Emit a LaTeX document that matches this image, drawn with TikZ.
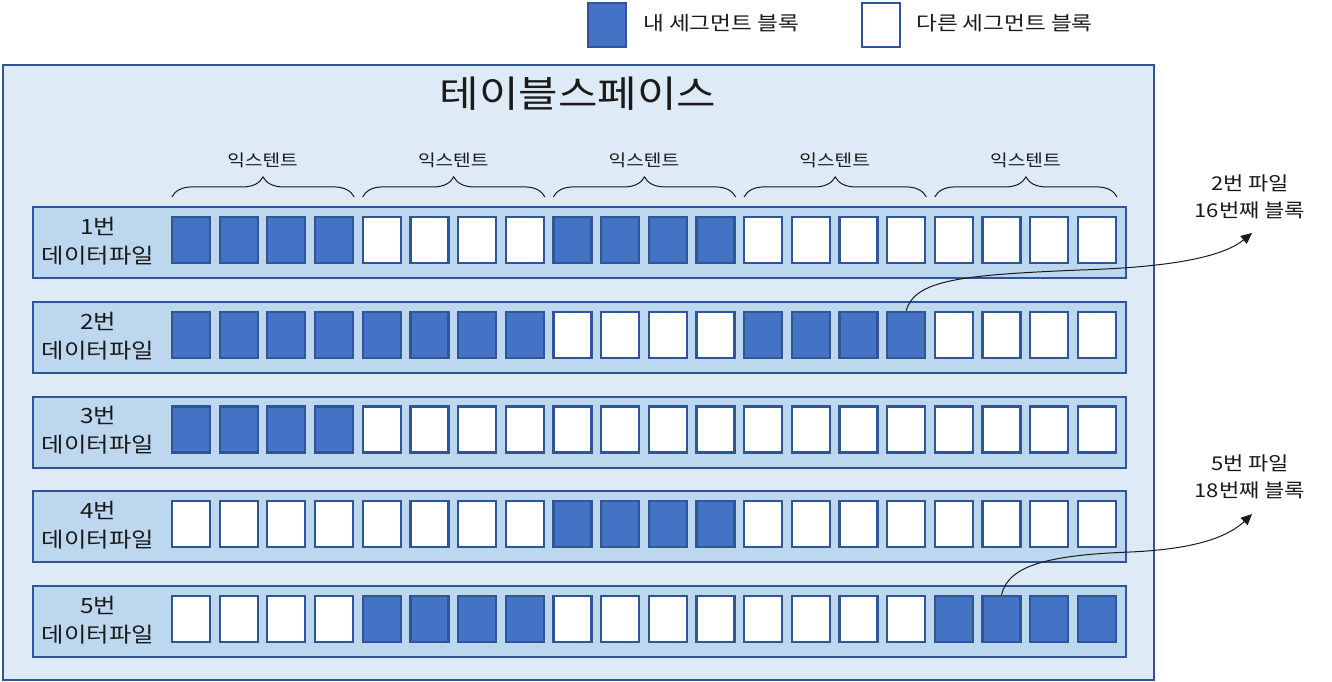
\documentclass[tikz,border=0pt]{standalone}
\usepackage{fontspec}
\setmainfont[FakeStretch=1.16]{Noto Sans CJK KR}
\usetikzlibrary{decorations.pathreplacing,arrows.meta,calc}
\definecolor{tsfill}{HTML}{DEEBF7}
\definecolor{rowfill}{HTML}{BDD7EE}
\definecolor{myblue}{HTML}{4472C4}
\definecolor{edge}{HTML}{2F5597}
\definecolor{ink}{HTML}{1A1A1A}
\begin{document}
\begin{tikzpicture}[x=1pt,y=-1pt,
  tsbox/.style={draw=edge,line width=2pt,fill=tsfill,inner sep=0pt},
  rowbox/.style={draw=edge,line width=2pt,fill=rowfill,inner sep=0pt},
  blk/.style={draw=edge,line width=2.2pt,inner sep=0pt,minimum width=38pt,minimum height=46pt},
  blk1/.style={blk,fill=myblue},
  blk0/.style={blk,fill=white},
  rowlabel/.style={align=center,text=ink,font=\fontsize{21}{29}\selectfont,inner sep=0pt},
  extlabel/.style={text=ink,font=\fontsize{16.5}{20}\selectfont,inner sep=0pt},
  bracestyle/.style={draw=ink,line width=1pt,decorate,decoration={brace,amplitude=20pt}},
  annot/.style={align=center,text=ink,font=\fontsize{19}{27}\selectfont,inner sep=0pt},
  legtext/.style={anchor=west,text=ink,font=\fontsize{19.5}{24}\selectfont,inner sep=0pt},
  arr/.style={draw=ink,line width=1pt,-{Triangle[length=11pt,width=10pt]}}
]
\useasboundingbox (0,0) rectangle (1332,681);

% legend
\node[blk1,minimum height=44pt] (legB) at (607,25) {};
\node[legtext] (legBt) at (643,23) {내 세그먼트 블록};
\node[blk0,minimum height=44pt] (legW) at (881,25) {};
\node[legtext] (legWt) at (916,23) {다른 세그먼트 블록};

% tablespace
\node[tsbox,minimum width=1151pt,minimum height=615pt,anchor=north west] (ts) at (2,64) {};
\node[text=ink,font=\fontsize{37}{40}\selectfont,inner sep=0pt] (title) at (578,94) {테이블스페이스};

% rows
\foreach \r/\pat in {1/{1,0,1,0,0},2/{1,1,0,1,0},3/{1,0,0,0,0},4/{0,0,1,0,0},5/{0,1,0,0,1}}{
  \node[rowbox,minimum width=1093pt,minimum height=71pt,anchor=north west] (row\r) at (32,{206+94.75*(\r-1)}) {};
  \node[rowlabel] (lab\r) at (98,{241+94.75*(\r-1)}) {{\r}번\\데이터파일};
  \foreach \bit [count=\e from 0] in \pat {
    \foreach \k in {0,...,3}{
      \pgfmathtruncatemacro{\c}{4*\e+\k}
      \node[blk\bit] (b-\r-\c) at ({191+47.68*\c},{240+94.75*(\r-1)}) {};
    }
  }
}

% extents
\foreach \e in {0,...,4}{
  \pgfmathtruncatemacro{\a}{4*\e}
  \pgfmathtruncatemacro{\z}{4*\e+3}
  \draw[bracestyle] ([xshift=1pt,yshift=19pt]b-1-\a.north west) -- ([xshift=0pt,yshift=19pt]b-1-\z.north east);
  \node[extlabel] (ext\e) at ({262.5+190.72*\e},160) {익스텐트};
}

% annotations
\node[annot] (ann1) at (1250,197) {2번 파일\\16번째 블록};
\node[annot] (ann2) at (1250,477) {5번 파일\\18번째 블록};
\coordinate (tip1) at (1252,233);
\coordinate (tip2) at (1252,514);
\draw[arr] (b-2-15.north) .. controls (915,280) and (960,275) .. (1080,270)
  .. controls (1180,267) and (1225,255) .. (tip1);
\draw[arr] (b-5-17.north) .. controls (1008,565) and (1050,555) .. (1130,552)
  .. controls (1200,549) and (1230,535) .. (tip2);
\end{tikzpicture}
\end{document}
